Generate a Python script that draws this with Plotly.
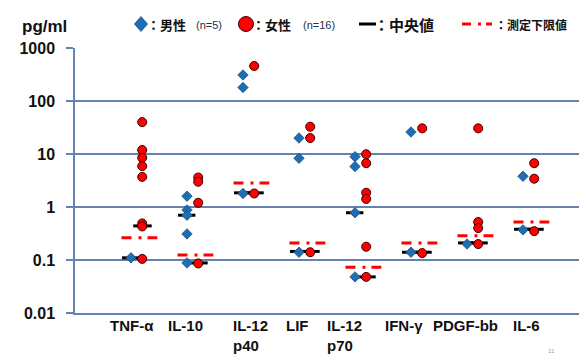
import plotly.graph_objects as go

# ---------------- data ----------------
categories = ["TNF-α", "IL-10", "IL-12<br>p40", "LIF", "IL-12<br>p70", "IFN-γ", "PDGF-bb", "IL-6"]
cat_pos = [1, 2, 3, 4, 5, 6, 7, 8]
label_pos = [1.02, 1.98, 3.13, 3.97, 4.82, 5.87, 6.98, 8.07]

male_values = [
    [0.11],
    [1.6, 0.88, 0.70, 0.31, 0.088],
    [310, 180, 1.8],
    [20, 8.3, 0.14],
    [8.9, 5.8, 0.78, 0.048],
    [26, 0.14],
    [0.2],
    [3.8, 0.37],
]
female_values = [
    [40, 11.9, 8.5, 5.9, 3.7, 0.49, 0.43, 0.105],
    [3.6, 3.0, 1.2, 0.086],
    [458, 1.8],
    [32.7, 20, 0.14],
    [9.9, 6.7, 1.86, 1.42, 0.178, 0.048],
    [30.5, 0.135],
    [30.5, 0.52, 0.40, 0.2],
    [6.7, 3.42, 0.35],
]
male_median = [0.11, 0.70, 1.85, 0.145, 0.78, 0.14, 0.21, 0.38]
female_median = [0.44, 0.088, 1.85, 0.145, 0.048, 0.14, 0.21, 0.38]
lower_limit = [0.264, 0.124, 2.84, 0.21, 0.073, 0.21, 0.288, 0.52]

ytick_vals = [0.01, 0.1, 1, 10, 100, 1000]
ytick_text = ["0.01", "0.1", "1", "10", "100", "1000"]

# ---------------- style ----------------
W, H = 587, 356
ML, MR, MT, MB = 75, 8, 48, 43
PW, PH = W - ML - MR, H - MT - MB
GRID = "#6683AE"
BLUE = "#1F6DB5"
RED = "#FF0000"
FONT = "Liberation Sans, Arial, sans-serif"
JFONT = "Noto Sans CJK JP, sans-serif"
TXT = "#111111"


def px(x):
    return (x - ML) / PW


def py(y):
    return (H - MB - y) / PH


MOFF, FOFF = 0.0, 0.2

fig = go.Figure()

# limit-of-detection lines
lx, ly = [], []
for p, v in zip(cat_pos, lower_limit):
    lx += [p - 0.17, p + 0.47, None]
    ly += [v, v, None]
fig.add_trace(go.Scatter(x=lx, y=ly, mode="lines",
                         line=dict(color=RED, width=3, dash="10px,7px,3px,6px"),
                         hoverinfo="skip", showlegend=False))

# median lines
mx, my = [], []
for p, v in zip(cat_pos, male_median):
    mx += [p + MOFF - 0.16, p + MOFF + 0.15, None]
    my += [v, v, None]
for p, v in zip(cat_pos, female_median):
    mx += [p + 0.04, p + 0.37, None]
    my += [v, v, None]
fig.add_trace(go.Scatter(x=mx, y=my, mode="lines",
                         line=dict(color="black", width=3),
                         hoverinfo="skip", showlegend=False))

# male points
xm, ym = [], []
for p, vals in zip(cat_pos, male_values):
    for v in vals:
        xm.append(p + MOFF); ym.append(v)
fig.add_trace(go.Scatter(x=xm, y=ym, mode="markers", showlegend=False,
                         marker=dict(symbol="diamond", size=8, color=BLUE,
                                     line=dict(color="#1A4F80", width=0.8))))
# female points
xf, yf = [], []
for p, vals in zip(cat_pos, female_values):
    for v in vals:
        xf.append(p + FOFF); yf.append(v)
fig.add_trace(go.Scatter(x=xf, y=yf, mode="markers", showlegend=False,
                         marker=dict(symbol="circle", size=9, color=RED,
                                     line=dict(color="#3A0000", width=1))))

# legend symbols as shapes (paper coordinates)
LY = 24
dcx, dhw, dhh = 141, 6.5, 7.5
diamond_path = (f"M {px(dcx - dhw)},{py(LY)} L {px(dcx)},{py(LY - dhh)} "
                f"L {px(dcx + dhw)},{py(LY)} L {px(dcx)},{py(LY + dhh)} Z")
ccx, cr = 246, 7.5
shapes = [
    dict(type="path", xref="paper", yref="paper", path=diamond_path,
         fillcolor=BLUE, line=dict(color="#1A4F80", width=0.8)),
    dict(type="circle", xref="paper", yref="paper",
         x0=px(ccx - cr), x1=px(ccx + cr), y0=py(LY + cr), y1=py(LY - cr),
         fillcolor=RED, line=dict(color="#3A0000", width=1)),
    dict(type="line", xref="paper", yref="paper", x0=px(359), x1=px(376),
         y0=py(LY), y1=py(LY), line=dict(color="black", width=3)),
    dict(type="line", xref="paper", yref="paper", x0=px(462), x1=px(492),
         y0=py(LY), y1=py(LY), line=dict(color=RED, width=3, dash="9px,7px,3px,5px")),
]

annotations = []


def pa(x, y, text, size, bold=True, font=JFONT, color=TXT, xanchor="left"):
    t = f"<b>{text}</b>" if bold else text
    annotations.append(dict(xref="paper", yref="paper", x=px(x), y=py(y), text=t,
                            showarrow=False, xanchor=xanchor, yanchor="middle",
                            borderpad=0,
                            font=dict(family=font, size=size, color=color)))


pa(21, 26, "pg/ml", 17, font=FONT)
pa(146, 24, "：男性", 13)
pa(195, 25, "(n=5)", 11, bold=False, font=FONT, color="#1F2F4F")
pa(251, 24, "：女性", 13)
pa(302, 25, "(n=16)", 11, bold=False, font=FONT, color="#1F2F4F")
pa(373, 24, "：中央値", 15)
pa(494, 24, "：測定下限値", 12)
pa(551, 351, "11", 6, bold=False, font=FONT, color="#A0A0A0", xanchor="center")

for lp, c in zip(label_pos, categories):
    annotations.append(dict(xref="x", yref="paper", x=lp, y=0, yshift=-2,
                            text=f"<b>{c}</b>", showarrow=False, xanchor="center",
                            yanchor="top", align="left",
                            font=dict(family=FONT, size=15, color=TXT)))

fig.update_layout(
    width=W, height=H,
    margin=dict(l=ML, r=MR, t=MT, b=MB),
    paper_bgcolor="white", plot_bgcolor="white",
    showlegend=False,
    xaxis=dict(range=[0, 9], showgrid=False, zeroline=False, showticklabels=False,
               ticks="", showline=True, linecolor=GRID, linewidth=1.5, fixedrange=True),
    yaxis=dict(type="log", range=[-2, 3], tickvals=ytick_vals, ticktext=ytick_text,
               showgrid=True, gridcolor=GRID, gridwidth=1.5, zeroline=False,
               showline=True, linecolor=GRID, linewidth=1.5,
               ticks="outside", ticklen=7, tickcolor=GRID, tickwidth=1.5,
               ticklabelstandoff=8,
               tickfont=dict(family=FONT, size=16, color=TXT, weight="bold")),
    shapes=shapes,
    annotations=annotations,
)

fig.write_html("out.html")
